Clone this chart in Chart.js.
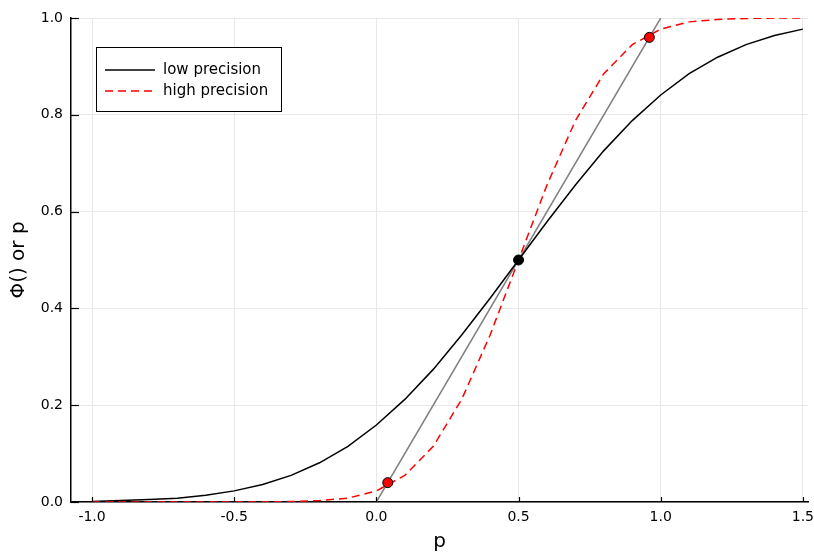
<!DOCTYPE html>
<html>
<head>
<meta charset="utf-8">
<script src="https://cdn.jsdelivr.net/npm/chart.js@4/dist/chart.umd.min.js"></script>
<style>
  html, body { margin: 0; padding: 0; background: #fff; }
  #wrap { position: relative; width: 814px; height: 554px; }
</style>
</head>
<body>
<div id="wrap"><canvas id="c" width="814" height="554"></canvas></div>
<script>
// ===== Data =====
const pValues = [-1.0, -0.9, -0.8, -0.7, -0.6, -0.5, -0.4, -0.3, -0.2, -0.1,
                 0.0, 0.1, 0.2, 0.3, 0.4, 0.5, 0.6, 0.7, 0.8, 0.9,
                 1.0, 1.1, 1.2, 1.3, 1.4, 1.5];
const lowPrecision = [0.001, 0.003, 0.005, 0.008, 0.014, 0.023, 0.036, 0.055, 0.081, 0.115,
                      0.159, 0.212, 0.274, 0.345, 0.421, 0.500, 0.579, 0.655, 0.726, 0.788,
                      0.841, 0.885, 0.919, 0.945, 0.964, 0.977];
const highPrecision = [0.000, 0.000, 0.000, 0.000, 0.000, 0.000, 0.000, 0.001, 0.003, 0.008,
                       0.023, 0.055, 0.115, 0.212, 0.345, 0.500, 0.655, 0.788, 0.885, 0.945,
                       0.977, 0.992, 0.997, 0.999, 1.000, 1.000];
const identityX = [0.0, 1.0];
const identityY = [0.0, 1.0];
const fixedRedX = [0.04, 0.96];
const fixedRedY = [0.04, 0.96];
const fixedBlackX = [0.5];
const fixedBlackY = [0.5];
const xTicks = [-1.0, -0.5, 0.0, 0.5, 1.0, 1.5];
const yTicks = [0.0, 0.2, 0.4, 0.6, 0.8, 1.0];

const FONT = 'DejaVu Sans';

function toPoints(xs, ys) {
    return xs.map((x, i) => ({ x: x, y: ys[i] }));
}

// Legend drawn inside the plot area (top-left)
const innerLegend = {
    id: 'innerLegend',
    afterDraw(chart) {
        const ctx = chart.ctx;
        const area = chart.chartArea;
        const items = chart.data.datasets.filter(d => d.showInLegend);
        const x0 = area.left + 25, y0 = area.top + 29;
        const w = 185, h = 64;
        ctx.save();
        ctx.fillStyle = '#fff';
        ctx.fillRect(x0, y0, w, h);
        ctx.strokeStyle = '#000';
        ctx.lineWidth = 1;
        ctx.strokeRect(x0 + 0.5, y0 + 0.5, w, h);
        ctx.font = '15px "' + FONT + '"';
        ctx.textBaseline = 'middle';
        items.forEach((d, i) => {
            const ly = y0 + 23 + i * 21;
            ctx.strokeStyle = d.borderColor;
            ctx.lineWidth = 1.5;
            ctx.setLineDash(d.borderDash || []);
            ctx.beginPath();
            ctx.moveTo(x0 + 9, ly);
            ctx.lineTo(x0 + 59, ly);
            ctx.stroke();
            ctx.setLineDash([]);
            ctx.fillStyle = '#000';
            ctx.fillText(d.label, x0 + 67, ly);
        });
        ctx.restore();
    }
};

// Inward tick marks, like the reference
const inwardTicks = {
    id: 'inwardTicks',
    afterDatasetsDraw(chart) {
        const ctx = chart.ctx;
        const xs = chart.scales.x, ys = chart.scales.y;
        const area = chart.chartArea;
        ctx.save();
        ctx.strokeStyle = '#000';
        ctx.lineWidth = 1.2;
        xTicks.forEach(v => {
            const px = Math.round(xs.getPixelForValue(v)) + 0.5;
            ctx.beginPath();
            ctx.moveTo(px, area.bottom);
            ctx.lineTo(px, area.bottom - 5);
            ctx.stroke();
        });
        yTicks.forEach(v => {
            const py = Math.round(ys.getPixelForValue(v)) + 0.5;
            ctx.beginPath();
            ctx.moveTo(area.left, py);
            ctx.lineTo(area.left + 8, py);
            ctx.stroke();
        });
        ctx.restore();
    }
};

new Chart(document.getElementById('c'), {
    type: 'line',
    data: {
        datasets: [
            {
                label: 'low precision',
                showInLegend: true,
                data: toPoints(pValues, lowPrecision),
                borderColor: '#000',
                borderWidth: 1.5,
                pointRadius: 0,
                tension: 0,
                order: 3
            },
            {
                label: 'high precision',
                showInLegend: true,
                data: toPoints(pValues, highPrecision),
                borderColor: '#ff0000',
                borderWidth: 1.5,
                borderDash: [8, 5],
                pointRadius: 0,
                tension: 0,
                order: 2
            },
            {
                label: 'p',
                data: toPoints(identityX, identityY),
                borderColor: '#808080',
                borderWidth: 1.5,
                pointRadius: 0,
                order: 4
            },
            {
                label: 'fixed points',
                data: toPoints(fixedRedX, fixedRedY),
                showLine: false,
                pointRadius: 5,
                pointBackgroundColor: '#ff0000',
                pointBorderColor: '#000',
                pointBorderWidth: 1,
                order: 1
            },
            {
                label: 'midpoint',
                data: toPoints(fixedBlackX, fixedBlackY),
                showLine: false,
                pointRadius: 5,
                pointBackgroundColor: '#000',
                pointBorderColor: '#000',
                pointBorderWidth: 1,
                order: 1
            }
        ]
    },
    options: {
        responsive: false,
        animation: false,
        layout: { padding: { top: 18, right: 0, left: 0, bottom: 0 } },
        plugins: {
            legend: { display: false },
            tooltip: { enabled: false }
        },
        scales: {
            x: {
                type: 'linear',
                min: -1.074,
                max: 1.518,
                afterBuildTicks: s => { s.ticks = xTicks.map(v => ({ value: v })); },
                afterFit: s => { s.height = 52; s.paddingRight = 0; s.paddingLeft = 0; },
                grid: { color: '#e8e8e8', lineWidth: 1, drawTicks: false },
                border: { color: '#000', width: 1.5 },
                ticks: {
                    color: '#000',
                    font: { family: FONT, size: 14 },
                    padding: 7,
                    callback: v => v.toFixed(1)
                },
                title: {
                    display: true,
                    text: 'p',
                    color: '#000',
                    font: { family: FONT, size: 20 },
                    padding: { top: 4, bottom: 0 }
                }
            },
            y: {
                type: 'linear',
                min: 0,
                max: 1,
                afterBuildTicks: s => { s.ticks = yTicks.map(v => ({ value: v })); },
                afterFit: s => { s.width = 71; s.paddingTop = 0; s.paddingBottom = 0; },
                grid: { color: '#e8e8e8', lineWidth: 1, drawTicks: false },
                border: { color: '#000', width: 1.5 },
                ticks: {
                    color: '#000',
                    font: { family: FONT, size: 14 },
                    padding: 8,
                    callback: v => v.toFixed(1)
                },
                title: {
                    display: true,
                    text: 'Φ() or p',
                    color: '#000',
                    font: { family: FONT, size: 20 },
                    padding: { top: 7, bottom: 4 }
                }
            }
        }
    },
    plugins: [innerLegend, inwardTicks]
});
</script>
</body>
</html>
